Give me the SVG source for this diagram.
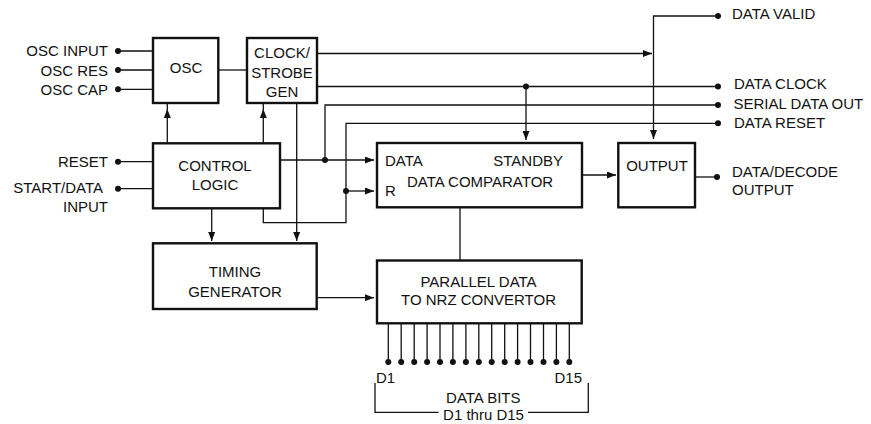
<svg xmlns="http://www.w3.org/2000/svg" width="871" height="424" viewBox="0 0 871 424">
<style>
.box{fill:#fff;stroke:#111;stroke-width:2.4}
.ln{fill:none;stroke:#111;stroke-width:1.3}
.dot{fill:#111}
text{font-family:"Liberation Sans",Arial,Helvetica,sans-serif;font-size:15px;fill:#111}
.e{text-anchor:end}
.m{text-anchor:middle}
</style>
<defs>
<marker id="ah" markerUnits="userSpaceOnUse" markerWidth="9" markerHeight="7" refX="9" refY="3.5" orient="auto">
<path d="M0,0 L9,3.5 L0,7 z" fill="#111"/>
</marker>
</defs>
<rect width="871" height="424" fill="#fff"/>
<g id="connectors">
<path class="ln" d="M118,51 H153 M118,70 H153 M118,89.3 H153"/>
<path class="ln" d="M218,70 H247"/>
<path class="ln" d="M118,161.7 H153 M118,188.7 H153"/>
<path class="ln" d="M167.3,143 V109 V103" marker-mid="url(#ah)"/>
<path class="ln" d="M263.3,143 V109 V103" marker-mid="url(#ah)"/>
<path class="ln" d="M317,53.5 H652" marker-end="url(#ah)"/>
<path class="ln" d="M718,16 H653.5 V139" marker-end="url(#ah)"/>
<path class="ln" d="M317,86.5 H718"/>
<path class="ln" d="M526,86.5 V140" marker-end="url(#ah)"/>
<path class="ln" d="M325,160 V105 H718"/>
<path class="ln" d="M263.3,208 V222.7 H346 V123.3 H718"/>
<path class="ln" d="M280,160 H374" marker-end="url(#ah)"/>
<path class="ln" d="M346,191 H374" marker-end="url(#ah)"/>
<path class="ln" d="M296.7,103 V241" marker-end="url(#ah)"/>
<path class="ln" d="M211.7,208 V241" marker-end="url(#ah)"/>
<path class="ln" d="M317,297.7 H374" marker-end="url(#ah)"/>
<path class="ln" d="M460,207 V260"/>
<path class="ln" d="M582,175 H616" marker-end="url(#ah)"/>
<path class="ln" d="M695,177 H717"/>
<path class="ln" d="M388.3,323 V362 M401.2,323 V362 M414.2,323 V362 M427.1,323 V362 M440,323 V362 M452.9,323 V362 M465.9,323 V362 M478.8,323 V362 M491.7,323 V362 M504.7,323 V362 M517.6,323 V362 M530.5,323 V362 M543.5,323 V362 M556.4,323 V362 M569.3,323 V362"/>
<path class="ln" d="M375,383 V412.3 H438.5 M528,412.3 H588.3 V383"/>
<g class="dot">
<circle cx="118" cy="51" r="3"/>
<circle cx="118" cy="70" r="3"/>
<circle cx="118" cy="89.3" r="3"/>
<circle cx="118" cy="161.7" r="3"/>
<circle cx="118" cy="188.7" r="3"/>
<circle cx="718" cy="16" r="3"/>
<circle cx="718" cy="86.5" r="3"/>
<circle cx="718" cy="105" r="3"/>
<circle cx="718" cy="123.3" r="3"/>
<circle cx="717" cy="177" r="3"/>
<circle cx="526" cy="86.5" r="3"/>
<circle cx="325" cy="160" r="3"/>
<circle cx="346" cy="191" r="3"/>
<circle cx="388.3" cy="362" r="3"/><circle cx="401.2" cy="362" r="3"/><circle cx="414.2" cy="362" r="3"/><circle cx="427.1" cy="362" r="3"/><circle cx="440" cy="362" r="3"/><circle cx="452.9" cy="362" r="3"/><circle cx="465.9" cy="362" r="3"/><circle cx="478.8" cy="362" r="3"/><circle cx="491.7" cy="362" r="3"/><circle cx="504.7" cy="362" r="3"/><circle cx="517.6" cy="362" r="3"/><circle cx="530.5" cy="362" r="3"/><circle cx="543.5" cy="362" r="3"/><circle cx="556.4" cy="362" r="3"/><circle cx="569.3" cy="362" r="3"/>
</g>
</g>
<g id="labels">
<text class="e" x="108" y="56">OSC INPUT</text>
<text class="e" x="108" y="75.5">OSC RES</text>
<text class="e" x="108" y="94.5">OSC CAP</text>
<text class="e" x="108" y="167">RESET</text>
<text class="e" x="103" y="193">START/DATA</text>
<text class="e" x="108" y="212">INPUT</text>
<text x="732" y="19">DATA VALID</text>
<text x="734" y="88.5">DATA CLOCK</text>
<text x="733.5" y="108.5">SERIAL DATA OUT</text>
<text x="734" y="127.5">DATA RESET</text>
<text x="732" y="177">DATA/DECODE</text>
<text x="732" y="195">OUTPUT</text>
<text x="376" y="383">D1</text>
<text class="e" x="582" y="383">D15</text>
<text class="m" x="483.3" y="403.3">DATA BITS</text>
<text class="m" x="483.5" y="419.5">D1 thru D15</text>
</g>
<g id="osc">
<rect class="box" x="153" y="38" width="65.3" height="65"/>
<text class="m" x="186" y="73">OSC</text>
</g>
<g id="clock-strobe-gen">
<rect class="box" x="247" y="38" width="70" height="65"/>
<text class="m" x="282" y="57.5">CLOCK/</text>
<text class="m" x="282" y="77.5">STROBE</text>
<text class="m" x="282" y="97">GEN</text>
</g>
<g id="control-logic">
<rect class="box" x="153" y="143.3" width="127" height="65"/>
<text class="m" x="215" y="171">CONTROL</text>
<text class="m" x="215" y="190">LOGIC</text>
</g>
<g id="data-comparator">
<rect class="box" x="377" y="143" width="205" height="64.3"/>
<text x="385" y="166">DATA</text>
<text class="e" x="563" y="166">STANDBY</text>
<text x="407" y="187">DATA COMPARATOR</text>
<text x="385" y="196">R</text>
</g>
<g id="output">
<rect class="box" x="618.3" y="143" width="76.7" height="64.3"/>
<text class="m" x="657" y="171">OUTPUT</text>
</g>
<g id="timing-generator">
<rect class="box" x="153" y="243.3" width="163.7" height="65.7"/>
<text class="m" x="235" y="277">TIMING</text>
<text class="m" x="235" y="297">GENERATOR</text>
</g>
<g id="parallel-converter">
<rect class="box" x="377" y="260.5" width="204.7" height="62.8"/>
<text class="m" x="478.5" y="287">PARALLEL DATA</text>
<text class="m" x="478.5" y="305">TO NRZ CONVERTOR</text>
</g>
</svg>
